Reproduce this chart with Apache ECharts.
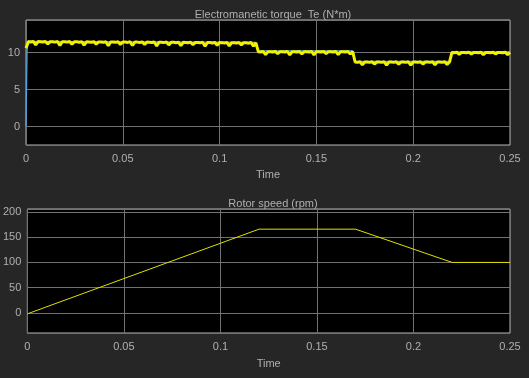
<!DOCTYPE html>
<html>
	<head>
		<meta charset="utf-8">
		<title>Torque and speed</title>
		<script src="https://cdn.jsdelivr.net/npm/echarts@6/dist/echarts.min.js" type="text/javascript"></script>
		<style type="text/css">
			body{margin: 0; background-color: #262626;}
			#main{width: 529px; height: 378px;}
		</style>
	</head>
	<body>
		<div id="main"></div>
		<script type="text/javascript">
			// 采样步长 (s)，测得的转矩按这个步长读出
			var sampleStep = 0.00125;
			// 实际转矩 (黄色, 带纹波)，分四段: 0-0.12, 0.12-0.17, 0.17-0.22, 0.22-0.25
			var torqueSeg1 = [
				10.6,
				11.48, 11.43, 11.51, 11.03, 11.48,
				11.47, 11.42, 11.5, 11.17, 11.47,
				11.46, 11.41, 11.49, 10.96, 11.46,
				11.46, 11.41, 11.49, 11.11, 11.46,
				11.45, 11.4, 11.48, 11.0, 11.45,
				11.44, 11.39, 11.47, 11.14, 11.44,
				11.43, 11.38, 11.46, 10.93, 11.43,
				11.43, 11.38, 11.46, 11.08, 11.43,
				11.42, 11.37, 11.45, 10.97, 11.42,
				11.41, 11.36, 11.44, 11.11, 11.41,
				11.4, 11.35, 11.43, 10.9, 11.4,
				11.39, 11.34, 11.42, 11.04, 11.39,
				11.38, 11.33, 11.41, 10.93, 11.38,
				11.37, 11.32, 11.4, 11.07, 11.37,
				11.36, 11.31, 11.39, 10.86, 11.36,
				11.35, 11.3, 11.38, 11.0, 11.35,
				11.34, 11.29, 11.37, 10.89, 11.34,
				11.33, 11.28, 11.36, 11.03, 11.33,
				11.32, 11.27, 11.35, 10.87, 11.32
			];
			var torqueSeg2 = [
				10.12, 10.07, 10.15, 9.72, 10.12,
				10.12, 10.07, 10.15, 9.85, 10.12,
				10.12, 10.07, 10.15, 9.7, 10.12,
				10.12, 10.07, 10.15, 9.82, 10.12,
				10.12, 10.07, 10.15, 9.68, 10.12,
				10.12, 10.07, 10.15, 9.85, 10.12,
				10.12, 10.07, 10.15, 9.72, 10.12,
				10.12, 10.07, 10.15, 9.8, 10.12
			];
			var torqueSeg3 = [
				8.72, 8.67, 8.75, 8.35, 8.72,
				8.72, 8.67, 8.75, 8.45, 8.72,
				8.72, 8.67, 8.75, 8.32, 8.72,
				8.72, 8.67, 8.75, 8.42, 8.72,
				8.72, 8.67, 8.75, 8.3, 8.72,
				8.72, 8.67, 8.75, 8.45, 8.72,
				8.72, 8.67, 8.75, 8.35, 8.72,
				8.72, 8.67, 8.75, 8.4, 8.72
			];
			var torqueSeg4 = [
				10.02, 9.97, 10.05, 9.75, 10.02,
				10.02, 9.97, 10.05, 9.8, 10.02,
				10.02, 9.97, 10.05, 9.7, 10.02,
				10.02, 9.97, 10.05, 9.82, 10.02,
				10.02, 9.97, 10.05, 9.72, 10.02
			];
			// 转矩 (蓝色) 的拐点
			var torqueRefTime = [0, 0.0006, 0.002, 0.11875, 0.12, 0.16875, 0.17, 0.21875, 0.22, 0.25];
			var torqueRefValue = [0, 10.9, 11.5, 11.38, 10.22, 10.22, 8.8, 8.8, 10.1, 10.1];
			// 转速拐点
			var speedTime = [0, 0.12, 0.17, 0.22, 0.25];
			var speedValue = [-2, 166, 166, 100, 100];
			var timeTicks = ['0', '0.05', '0.1', '0.15', '0.2', '0.25'];

			var torqueMeasured = torqueSeg1.concat(torqueSeg2, torqueSeg3, torqueSeg4);
			var measuredData = torqueMeasured.map(function (v, i) {
				return [i * sampleStep, v];
			});
			var refData = torqueRefTime.map(function (t, i) { return [t, torqueRefValue[i]]; });
			var speedData = speedTime.map(function (t, i) { return [t, speedValue[i]]; });

			var textColor = '#b0b0b0';
			var gridColor = '#727272';

			function timeAxis(gridIndex, gap) {
				return {
					gridIndex: gridIndex,
					type: 'value',
					min: 0,
					max: 0.25,
					interval: 0.05,
					name: 'Time',
					nameLocation: 'middle',
					nameGap: gap,
					nameTextStyle: {color: textColor, fontSize: 11, fontFamily: 'Liberation Sans'},
					axisLine: {show: false},
					axisTick: {show: false},
					axisLabel: {
						color: textColor, fontSize: 11, fontFamily: 'Liberation Sans', margin: 8,
						formatter: function (v) { return timeTicks[Math.round(v / 0.05)]; }
					},
					splitLine: {lineStyle: {color: gridColor, width: 1}}
				};
			}

			function valueAxis(gridIndex, min, max, splitNumber, step) {
				return {
					gridIndex: gridIndex,
					type: 'value',
					min: min,
					max: max,
					splitNumber: splitNumber,
					axisLine: {show: false},
					axisTick: {show: false},
					axisLabel: {
						color: textColor, fontSize: 11, fontFamily: 'Liberation Sans', margin: 6,
						showMinLabel: false, showMaxLabel: false,
						formatter: function (v) { return Math.abs(v % step) < 1e-6 ? String(v) : ''; }
					},
					splitLine: {lineStyle: {color: gridColor, width: 1}}
				};
			}

			var myChart = echarts.init(document.getElementById('main'), null, {renderer: 'canvas'});
			var option = {
				backgroundColor: '#262626',
				animation: false,
				title: [
					{
						text: 'Electromanetic torque  Te (N*m)',
						left: 268, top: 4, textAlign: 'center',
						textStyle: {color: textColor, fontSize: 11, fontWeight: 'normal', fontFamily: 'Liberation Sans'}
					},
					{
						text: 'Rotor speed (rpm)',
						left: 268, top: 193, textAlign: 'center',
						textStyle: {color: textColor, fontSize: 11, fontWeight: 'normal', fontFamily: 'Liberation Sans'}
					}
				],
				grid: [
					{left: 26, top: 20, width: 484, height: 125, show: true, backgroundColor: '#000', borderColor: '#b4b4b4', borderWidth: 1},
					{left: 26, top: 209, width: 484, height: 124, show: true, backgroundColor: '#000', borderColor: '#b4b4b4', borderWidth: 1}
				],
				xAxis: [timeAxis(0, 24), timeAxis(1, 25)],
				yAxis: [valueAxis(0, -2.5, 14.4, 3, 5), valueAxis(1, -40, 206, 5, 50)],
				series: [
					{
						type: 'line', xAxisIndex: 0, yAxisIndex: 0, data: refData,
						symbol: 'none', lineStyle: {color: '#4aa6e6', width: 1.2}
					},
					{
						type: 'line', xAxisIndex: 0, yAxisIndex: 0, data: measuredData,
						symbol: 'none', lineStyle: {color: '#f2f200', width: 3}
					},
					{
						type: 'line', xAxisIndex: 1, yAxisIndex: 1, data: speedData,
						symbol: 'none', lineStyle: {color: '#e0e000', width: 1}
					}
				]
			};
			myChart.setOption(option);
		</script>
	</body>
</html>
